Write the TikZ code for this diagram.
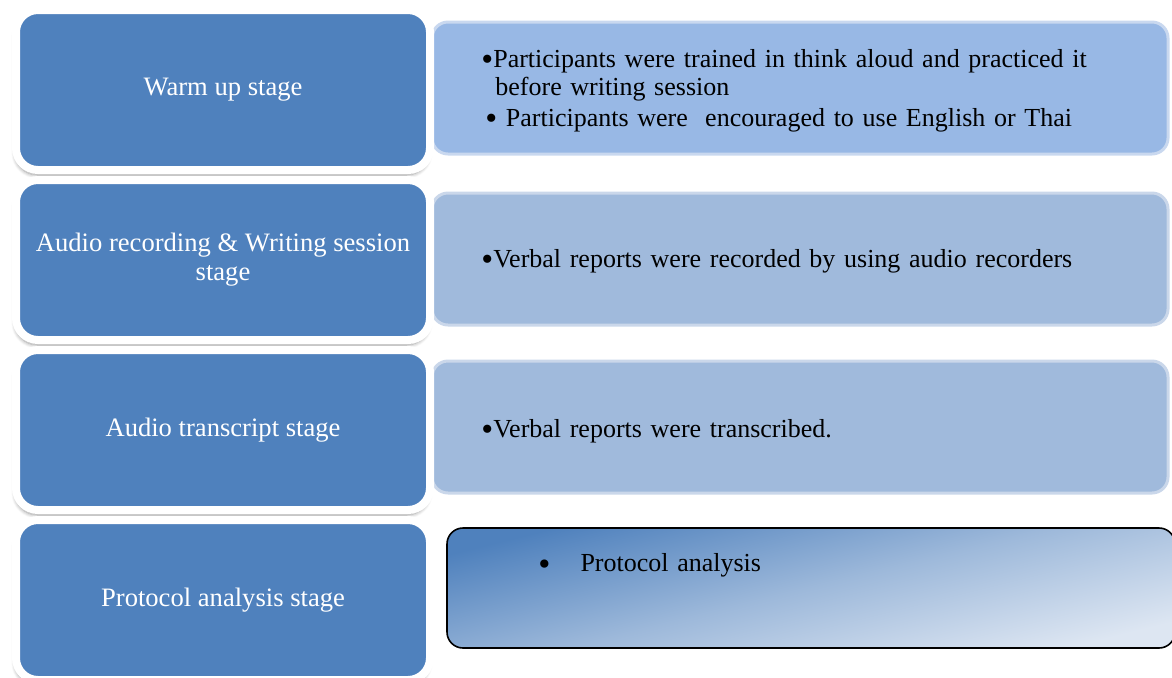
\documentclass[tikz,border=0pt]{standalone}
\usepackage{fontspec}
\setmainfont{Liberation Serif}
\usetikzlibrary{positioning,shadows,shadows.blur}

\definecolor{stageblue}{HTML}{4F81BD}
\definecolor{noteone}{HTML}{98B8E5}
\definecolor{noteoneedge}{HTML}{C9D8EF}
\definecolor{notetwo}{HTML}{A0BADC}
\definecolor{notetwoedge}{HTML}{CAD7EA}
\definecolor{notelight}{HTML}{DDE6F2}

\newcommand{\dotmark}{\raisebox{-1.3pt}{\fontsize{17}{14}\selectfont\textbullet}}

\tikzset{
  stagebox/.style={rectangle, rounded corners=11pt, fill=stageblue, draw=white,
    line width=4pt, minimum width=207pt, minimum height=80pt, text=white,
    align=center, font=\fontsize{13.3}{14.5}\selectfont,
    blur shadow={shadow xshift=-0.5pt, shadow yshift=-2.5pt, shadow blur steps=6,
      shadow blur extra rounding=3pt, shadow opacity=40}},
  notebox/.style={rectangle, rounded corners=8pt, fill=noteone, draw=noteoneedge,
    line width=1.5pt, minimum width=368pt, minimum height=66pt},
  notetext/.style={anchor=north west, align=left, text width=330pt,
    font=\fontsize{13}{14}\selectfont, inner sep=0pt}
}

\begin{document}
\begin{tikzpicture}[x=0.5pt, y=-0.5pt]
            \useasboundingbox (0,0) rectangle (1172,677);

            % First, the boxes on the right
            \node[notebox] (note1) at (800, 88) {};
            \node[notebox, fill=notetwo, draw=notetwoedge] (note2) at (800, 259) {};
            \node[notebox, fill=notetwo, draw=notetwoedge] (note3) at (800, 427) {};
            \node[notebox, minimum width=364pt, minimum height=60pt, draw=black,
                  line width=0.8pt, top color=stageblue, bottom color=notelight,
                  middle color=stageblue!45!notelight, shading angle=14] (note4) at (811, 588) {};

            % Then the stages on the left
            \node[stagebox] (stage1) at (223, 90) {Warm up stage};
            \node[stagebox] (stage2) at (223, 260) {Audio recording \& Writing session\\stage};
            \node[stagebox] (stage3) at (223, 430) {Audio transcript stage};
            \node[stagebox] (stage4) at (223, 600) {Protocol analysis stage};

            % Texts of the boxes on the right
            \node[notetext] (text1) at (481, 49) {%
              \dotmark Participants were trained in think aloud and practiced it\\
              \hspace*{7pt}before writing session\\[1.5pt]
              \hspace*{2pt}\dotmark\ Participants were\ \ encouraged to use English or Thai};
            \node[notetext] (text2) at (481, 249) {\dotmark Verbal reports were recorded by using audio recorders};
            \node[notetext] (text3) at (481, 419) {\dotmark Verbal reports were transcribed.};
            \node[notetext] (text4) at (538, 553) {\raisebox{-1.8pt}{\LARGE\textbullet}\hspace{15pt}Protocol analysis};
\end{tikzpicture}
\end{document}
